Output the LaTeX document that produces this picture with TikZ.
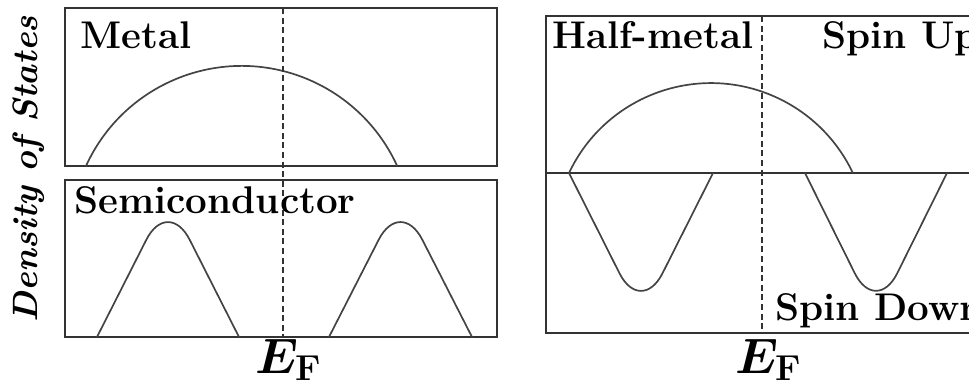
\documentclass[tikz,border=0pt]{standalone}
\usetikzlibrary{positioning}
\definecolor{frame}{HTML}{333333}
\definecolor{band}{HTML}{444444}

\tikzset{
  panel/.style={draw=frame,line width=1.2pt},
  dos/.style={draw=band,line width=0.85pt,rounded corners=24pt},
  fermi/.style={draw=frame,line width=0.8pt,dash pattern=on 3pt off 1.8pt},
  tag/.style={font=\fontsize{19.3}{22}\selectfont\bfseries,inner sep=0pt,anchor=base west},
  eflabel/.style={font=\fontsize{23}{26}\selectfont\boldmath,inner sep=0pt,anchor=base}
}
\newcommand{\fermisub}{\mbox{\fontsize{18}{18}\selectfont\bfseries F}}

\begin{document}
\begin{tikzpicture}[x=0.5pt,y=-0.5pt]
    \useasboundingbox (0,0) rectangle (969,388);
    \clip (0,0) rectangle (969,388);
    % metal and semiconductor
    \draw[panel] (65,8) rectangle (497,166);
    \draw[panel] (65,180) rectangle (497,337);
    \draw[dos] (86,166) arc[start angle=-155.5,end angle=-24.5,radius=171];
    \draw[dos] (97,337) -- (168,197) -- (239,337);
    \draw[dos] (329,337) -- (400.5,197) -- (472,337);
    \draw[fermi] (283,8) -- (283,337);
    \node[tag] (metal) at (80,48){Metal};
    \node[tag] (semi) at (74,213){Semiconductor};
    \node[eflabel] (efleft) at (289,373){$E_{\fermisub}$};
    \node[rotate=90,anchor=base,inner sep=0pt,font=\fontsize{17.6}{21}\selectfont\bfseries\itshape] (dosaxis) at (37,169){Density of States};
    % half-metal
    \draw[panel] (546,16) rectangle (1010,333);
    \draw[panel] (546,173) -- (1010,173);
    \draw[dos] (569,173) arc[start angle=-154.7,end angle=-25.3,radius=157];
    \draw[dos] (569,173) -- (641,316) -- (713,173);
    \draw[dos] (805,173) -- (876,316) -- (947,173);
    \draw[fermi] (762,16) -- (762,333);
    \node[tag] (half) at (552,48){Half-metal};
    \node[tag] (spinup) at (822,48){Spin Up};
    \node[tag] (spindown) at (775,320){Spin Down};
    \node[eflabel] (efright) at (769,373){$E_{\fermisub}$};
  \end{tikzpicture}
\end{document}
